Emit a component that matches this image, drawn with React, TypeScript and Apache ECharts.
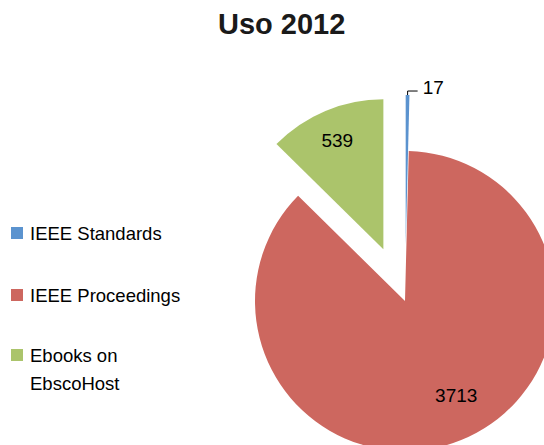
import React, { useEffect, useRef } from "react";
import * as echarts from "echarts";

const title = "Uso 2012";
const categories = ["IEEE Standards", "IEEE Proceedings", "Ebooks on\nEbscoHost"];
const values = [17, 3713, 539];
const exploded = [true, false, true];
const colors = ["#5B93CF", "#CD675F", "#ABC46B"];

export default function App() {
  const ref = useRef<HTMLDivElement>(null);
  useEffect(() => {
    if (!ref.current) return;
    const chart = echarts.init(ref.current, undefined, { renderer: "svg" });
    const font = "'Liberation Sans', Arial, sans-serif";
    const labelShift: Record<number, [number, number]> = { 0: [0, -4], 1: [22, 22], 2: [-16, -37] };
    const legendText = { fontFamily: font, fontSize: 18.5, lineHeight: 28, color: "#000", padding: [0, 0, 0, 2] };
    chart.setOption({
      animation: false,
      backgroundColor: "#ffffff",
      title: {
        text: title,
        left: 213,
        top: 4,
        textStyle: { fontFamily: font, fontSize: 29, fontWeight: "bold", color: "#1a1a1a" },
      },
      legend: [
        {
          orient: "vertical",
          left: 11,
          top: 219,
          padding: 0,
          itemWidth: 12,
          itemHeight: 12,
          itemGap: 34,
          icon: "rect",
          selectedMode: false,
          data: categories.slice(0, 2),
          textStyle: legendText,
        },
        {
          orient: "vertical",
          left: 11,
          top: 313,
          padding: 0,
          itemWidth: 12,
          itemHeight: 12,
          icon: "rect",
          selectedMode: false,
          data: categories.slice(2),
          formatter: (name: string) => "\n" + name,
          textStyle: legendText,
        },
      ],
      series: [
        {
          type: "pie",
          center: [405, 301],
          radius: 150,
          startAngle: 90,
          clockwise: true,
          selectedMode: "multiple",
          selectedOffset: 56,
          avoidLabelOverlap: false,
          emphasis: { disabled: true },
          select: { itemStyle: { borderWidth: 0 } },
          data: categories.map((name, i) => ({
            name,
            value: values[i],
            selected: exploded[i],
            itemStyle: { color: colors[i] },
            label:
              i === 0
                ? { show: true, position: "outside" }
                : { show: true, position: "inside" },
            labelLine: { show: i === 0, length: 4, length2: 10, lineStyle: { color: "#000", width: 1 } },
          })),
          label: {
            formatter: "{c}",
            fontFamily: font,
            fontSize: 19,
            color: "#000",
          },
          labelLayout: (p: any) => {
            const s = labelShift[p.dataIndex];
            return s ? { dx: s[0], dy: s[1] } : {};
          },
        },
      ],
    });
    return () => chart.dispose();
  }, []);
  return (
    <div
      ref={ref}
      style={{ position: "absolute", left: 0, top: 0, width: 544, height: 445 }}
    />
  );
}
